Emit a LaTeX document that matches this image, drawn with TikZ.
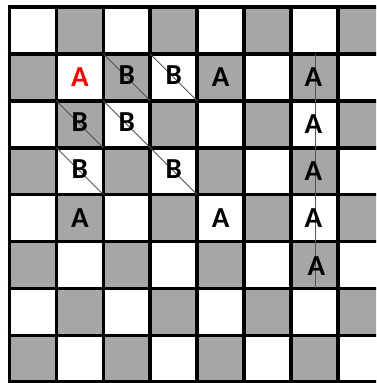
\documentclass[tikz,border=0pt]{standalone}
\usepackage{fontspec}
\setmainfont{Carlito}
\definecolor{cellgray}{HTML}{A6A6A6}
\definecolor{linegray}{HTML}{555555}
\definecolor{redA}{HTML}{FF0000}
\begin{document}
\begin{tikzpicture}[x=1pt,y=-1pt,
  cell/.style={minimum size=46.9pt,inner sep=0pt,outer sep=0pt,draw=none},
  lbl/.style={font=\fontsize{29}{29}\selectfont\bfseries,inner sep=0pt},
  grid/.style={line width=3.6pt,black},
  thin/.style={line width=0.9pt,linegray}]
\useasboundingbox (0,0) rectangle (376,383);
\clip (0,0) rectangle (376,383);
\fill[white] (0,0) rectangle (376,383);
\foreach \r in {0,...,7}{
  \foreach \c in {0,...,7}{
    \pgfmathtruncatemacro{\myparity}{mod(\r+\c,2)}
    \ifnum\myparity=1
      \node[cell,fill=cellgray] (c-\r-\c) at ({9.5+46.9*(\c+0.5)},{7+46.9*(\r+0.5)}) {};
    \else
      \node[cell,fill=white] (c-\r-\c) at ({9.5+46.9*(\c+0.5)},{7+46.9*(\r+0.5)}) {};
    \fi
  }
}
% grid lines
\foreach \i in {0,...,8}{
  \draw[grid] ({9.5+46.9*\i},5.2) -- ({9.5+46.9*\i},390);
  \draw[grid] (7.7,{7+46.9*\i}) -- (390,{7+46.9*\i});
}
% diagonals through B cells
\foreach \r/\c in {1/2,1/3,2/1,2/2,3/1,3/3}{
  \draw[thin] (c-\r-\c.north west) -- (c-\r-\c.south east);
}
% vertical line in column 6
\draw[thin] ([xshift=1.5pt]c-1-6.north) -- ([xshift=1.5pt]c-5-6.south);
% labels
\node[lbl,text=redA] (t-1-1) at (c-1-1) {A};
\node[lbl] (t-1-2) at ([yshift=2pt]c-1-2) {B};
\node[lbl] (t-1-3) at ([yshift=2pt]c-1-3) {B};
\node[lbl] (t-1-4) at (c-1-4) {A};
\node[lbl] (t-1-6) at ([xshift=-1pt]c-1-6) {A};
\node[lbl] (t-2-1) at ([yshift=2pt]c-2-1) {B};
\node[lbl] (t-2-2) at ([yshift=2pt]c-2-2) {B};
\node[lbl] (t-2-6) at ([xshift=-1pt]c-2-6) {A};
\node[lbl] (t-3-1) at ([yshift=2pt]c-3-1) {B};
\node[lbl] (t-3-3) at ([yshift=2pt]c-3-3) {B};
\node[lbl] (t-3-6) at ([xshift=-1pt]c-3-6) {A};
\node[lbl] (t-4-1) at (c-4-1) {A};
\node[lbl] (t-4-4) at (c-4-4) {A};
\node[lbl] (t-4-6) at ([xshift=-1pt]c-4-6) {A};
\node[lbl] (t-5-6) at ([xshift=2pt,yshift=-1pt]c-5-6) {A};
\end{tikzpicture}
\end{document}
